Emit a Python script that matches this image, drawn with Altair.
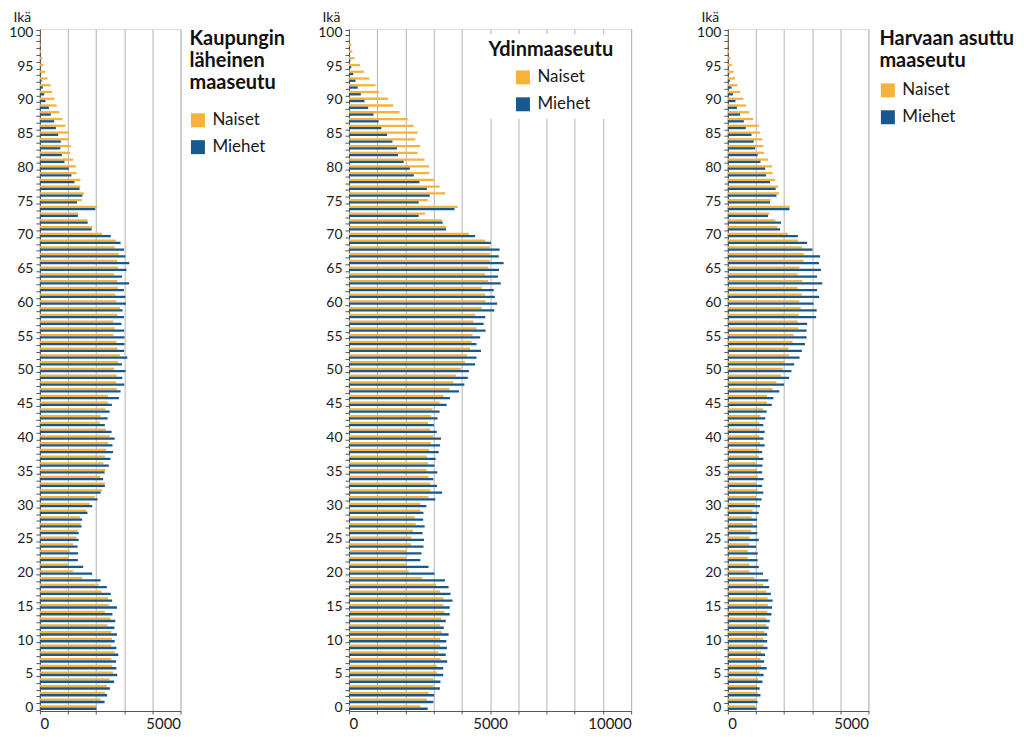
import altair as alt
import pandas as pd

# Ages from 100 (top) down to 0 (bottom)
ages = list(range(100, -1, -1))
sexes = ["Naiset", "Miehet"]
colors = ["#F7B23B", "#17588E"]

# Kaupungin läheinen maaseutu
kl_naiset = [5, 10, 25, 50, 80, 120, 190, 270, 380, 440,
             520, 600, 700, 800, 910, 1040, 1030, 1100, 1075, 1180,
             1280, 1300, 1440, 1440, 1570, 1490, 2040, 1360, 1690, 1860,
             2210, 2700, 2660, 2810, 2750, 2780, 2640, 2750, 2780, 2680,
             2720, 2850, 2750, 2610, 2660, 2620, 2720, 2750, 2840, 2780,
             2640, 2730, 2710, 2730, 2420, 2420, 2330, 2160, 2130, 2340,
             2480, 2420, 2360, 2310, 2260, 2330, 2150, 2310, 2210, 1950,
             1770, 1650, 1420, 1450, 1340, 1300, 1180, 1060, 1030, 1000,
             1180, 1500, 2090, 2190, 2420, 2450, 2310, 2510, 2400, 2540,
             2570, 2540, 2660, 2540, 2570, 2600, 2480, 2380, 2310, 2160,
             2010]
kl_miehet = [1, 3, 5, 12, 20, 30, 47, 60, 105, 155,
             200, 320, 390, 510, 570, 650, 745, 730, 780, 875,
             1030, 1120, 1230, 1410, 1510, 1320, 1970, 1350, 1700, 1840,
             2520, 2870, 2990, 3040, 3180, 3080, 2920, 3170, 2990, 3040,
             3060, 2940, 2990, 2900, 3000, 3010, 3010, 3000, 3110, 2920,
             3050, 2930, 3000, 2870, 2810, 2560, 2480, 2410, 2310, 2550,
             2660, 2580, 2600, 2510, 2450, 2300, 2250, 2310, 2160, 2050,
             1860, 1690, 1500, 1480, 1380, 1380, 1340, 1360, 1350, 1540,
             1860, 2160, 2380, 2520, 2570, 2740, 2580, 2680, 2650, 2740,
             2660, 2720, 2790, 2710, 2720, 2750, 2640, 2490, 2390, 2300,
             2010]

# Ydinmaaseutu
yd_naiset = [5, 20, 80, 120, 200, 390, 530, 720, 940, 1070,
             1380, 1560, 1790, 2080, 2290, 2430, 2350, 2520, 2430, 2680,
             2840, 2840, 3020, 3210, 3410, 2790, 3850, 2700, 3290, 3440,
             4250, 4830, 4990, 4990, 4990, 4940, 4820, 4940, 4700, 4820,
             4840, 4700, 4470, 4410, 4520, 4380, 4350, 4290, 4190, 4110,
             3960, 3790, 3700, 3560, 3350, 3210, 2960, 2910, 2800, 2880,
             2990, 2900, 2840, 2760, 2800, 2760, 2820, 2880, 2880, 2820,
             2530, 2530, 2330, 2370, 2270, 2210, 2200, 2030, 2020, 2030,
             2120, 2590, 3090, 3230, 3350, 3350, 3380, 3270, 3230, 3290,
             3230, 3230, 3170, 3250, 3110, 3110, 2990, 2990, 2820, 2760,
             2530]
yd_miehet = [1, 5, 15, 25, 50, 80, 150, 230, 310, 420,
             550, 680, 870, 1050, 1150, 1350, 1540, 1700, 1740, 1940,
             2160, 2300, 2500, 2760, 2860, 2470, 3740, 2470, 3320, 3440,
             4470, 5030, 5340, 5310, 5480, 5320, 5280, 5380, 5130, 5170,
             5250, 5150, 4830, 4770, 4840, 4650, 4520, 4680, 4520, 4470,
             4250, 4210, 4090, 3900, 3580, 3460, 3210, 3140, 3010, 3110,
             3260, 3230, 3180, 3070, 3030, 3130, 2990, 3120, 3300, 3060,
             2740, 2640, 2630, 2680, 2610, 2660, 2640, 2570, 2530, 2820,
             3030, 3400, 3530, 3600, 3670, 3570, 3570, 3430, 3360, 3530,
             3450, 3470, 3430, 3480, 3340, 3340, 3240, 3220, 3020, 2990,
             2790]

# Harvaan asuttu maaseutu
ha_naiset = [3, 8, 15, 45, 80, 140, 200, 260, 340, 440,
             550, 640, 760, 900, 1100, 1140, 1230, 1260, 1290, 1430,
             1570, 1590, 1680, 1790, 1820, 1520, 2200, 1470, 1690, 1760,
             2130, 2490, 2630, 2700, 2680, 2540, 2480, 2650, 2480, 2630,
             2540, 2590, 2520, 2480, 2510, 2340, 2300, 2160, 2180, 2030,
             1950, 1890, 1730, 1590, 1390, 1390, 1260, 1160, 1120, 1130,
             1120, 1140, 1100, 1100, 1000, 1040, 1060, 1000, 1060, 1000,
             970, 880, 850, 880, 830, 770, 750, 710, 710, 770,
             770, 940, 1260, 1360, 1420, 1420, 1410, 1360, 1360, 1300,
             1260, 1270, 1180, 1160, 1180, 1120, 1080, 1040, 1060, 1000,
             970]
ha_miehet = [1, 2, 5, 10, 20, 35, 50, 70, 130, 180,
             270, 320, 440, 570, 640, 840, 920, 970, 1060, 1160,
             1330, 1360, 1500, 1700, 1730, 1500, 2190, 1430, 1890, 1860,
             2490, 2820, 3010, 3280, 3240, 3310, 3170, 3360, 3170, 3250,
             3050, 3160, 3140, 2820, 2800, 2800, 2740, 2630, 2550, 2360,
             2260, 2180, 2000, 1830, 1620, 1560, 1380, 1330, 1260, 1310,
             1270, 1310, 1220, 1260, 1230, 1220, 1270, 1220, 1260, 1200,
             1140, 1100, 1040, 1040, 1050, 1100, 1010, 1060, 1060, 1100,
             1250, 1440, 1470, 1530, 1590, 1570, 1550, 1490, 1450, 1400,
             1400, 1410, 1320, 1290, 1380, 1270, 1230, 1130, 1160, 1060,
             1020]

for arr in (kl_naiset, kl_miehet, yd_naiset, yd_miehet, ha_naiset, ha_miehet):
    assert len(arr) == len(ages)


def frame(naiset, miehet):
    rows = []
    for a, n, m in zip(ages, naiset, miehet):
        rows.append({"Ikä": a, "Sukupuoli": "Naiset", "Väestö": n})
        rows.append({"Ikä": a, "Sukupuoli": "Miehet", "Väestö": m})
    return pd.DataFrame(rows)


PLOT_H = 684
FONT = "Lato"


def panel(df, width, xmax, legend):
    return alt.Chart(df).mark_bar().encode(
        x=alt.X(
            "Väestö:Q",
            scale=alt.Scale(domain=[0, xmax], nice=False, zero=True),
            axis=alt.Axis(
                values=list(range(0, xmax + 1, 1000)),
                labelExpr="datum.value % 5000 == 0 ? datum.label : ''",
                format="d",
                title=None,
                grid=True,
                gridColor="#b3b3b3",
                gridWidth=1,
                domainColor="#555555",
                tickColor="#555555",
                tickSize=3,
                labelFontSize=15,
                labelColor="#1a1a1a",
                labelPadding=3,
                labelFont=FONT,
            ),
        ),
        y=alt.Y(
            "Ikä:O",
            sort="descending",
            scale=alt.Scale(paddingInner=0.32, paddingOuter=0.16),
            axis=alt.Axis(
                labelExpr="datum.value % 5 == 0 ? datum.label : ''",
                title="Ikä",
                titleAngle=0,
                titleAlign="left",
                titleBaseline="alphabetic",
                titleX=-27,
                titleY=-8,
                titleFontSize=14,
                titleFontWeight="normal",
                titleFont=FONT,
                titleColor="#1a1a1a",
                tickBand="extent",
                tickSize=4,
                tickColor="#555555",
                domainColor="#555555",
                labelFontSize=14,
                labelColor="#1a1a1a",
                labelPadding=3,
                labelFont=FONT,
                grid=False,
                labelOverlap=False,
            ),
        ),
        yOffset=alt.YOffset("Sukupuoli:N", sort=sexes,
                            scale=alt.Scale(paddingInner=0)),
        color=alt.Color(
            "Sukupuoli:N",
            sort=sexes,
            scale=alt.Scale(domain=sexes, range=colors),
            legend=legend,
        ),
    ).properties(width=width, height=PLOT_H)


common_legend = dict(
    symbolType="square",
    symbolSize=196,
    symbolStrokeWidth=0,
    labelFontSize=17,
    labelFont=FONT,
    labelColor="#1a1a1a",
    titleFontSize=20,
    titleFont=FONT,
    titleFontWeight="bold",
    titleColor="#111111",
    titleLineHeight=22,
    titleLimit=300,
    rowPadding=9,
    labelOffset=6,
)

leg1 = alt.Legend(
    title=["Kaupungin", "läheinen", "maaseutu"],
    orient="right",
    offset=9,
    titlePadding=19,
    **common_legend,
)
leg2 = alt.Legend(
    title="Ydinmaaseutu",
    orient="none",
    legendX=134,
    legendY=5,
    padding=6,
    fillColor="white",
    symbolOffset=26,
    titlePadding=9,
    **common_legend,
)
leg3 = alt.Legend(
    title=["Harvaan asuttu", "maaseutu"],
    orient="right",
    offset=11,
    titlePadding=11,
    **common_legend,
)

p1 = panel(frame(kl_naiset, kl_miehet), 141, 5000, leg1)
p2 = panel(frame(yd_naiset, yd_miehet), 283, 10000, leg2)
p3 = panel(frame(ha_naiset, ha_miehet), 141, 5000, leg3)

left = alt.hconcat(p1, p2, spacing=31).resolve_scale(color="independent").resolve_legend(color="independent")
chart = alt.hconcat(left, p3, spacing=64).resolve_scale(
    color="independent"
).resolve_legend(color="independent").properties(
    padding={"left": 0, "top": 0, "right": 0, "bottom": 0}
).configure_view(
    stroke="#555555", strokeWidth=1
).configure(font=FONT, background="white")

chart.save("out.html", embed_options={"renderer": "svg", "actions": False})
